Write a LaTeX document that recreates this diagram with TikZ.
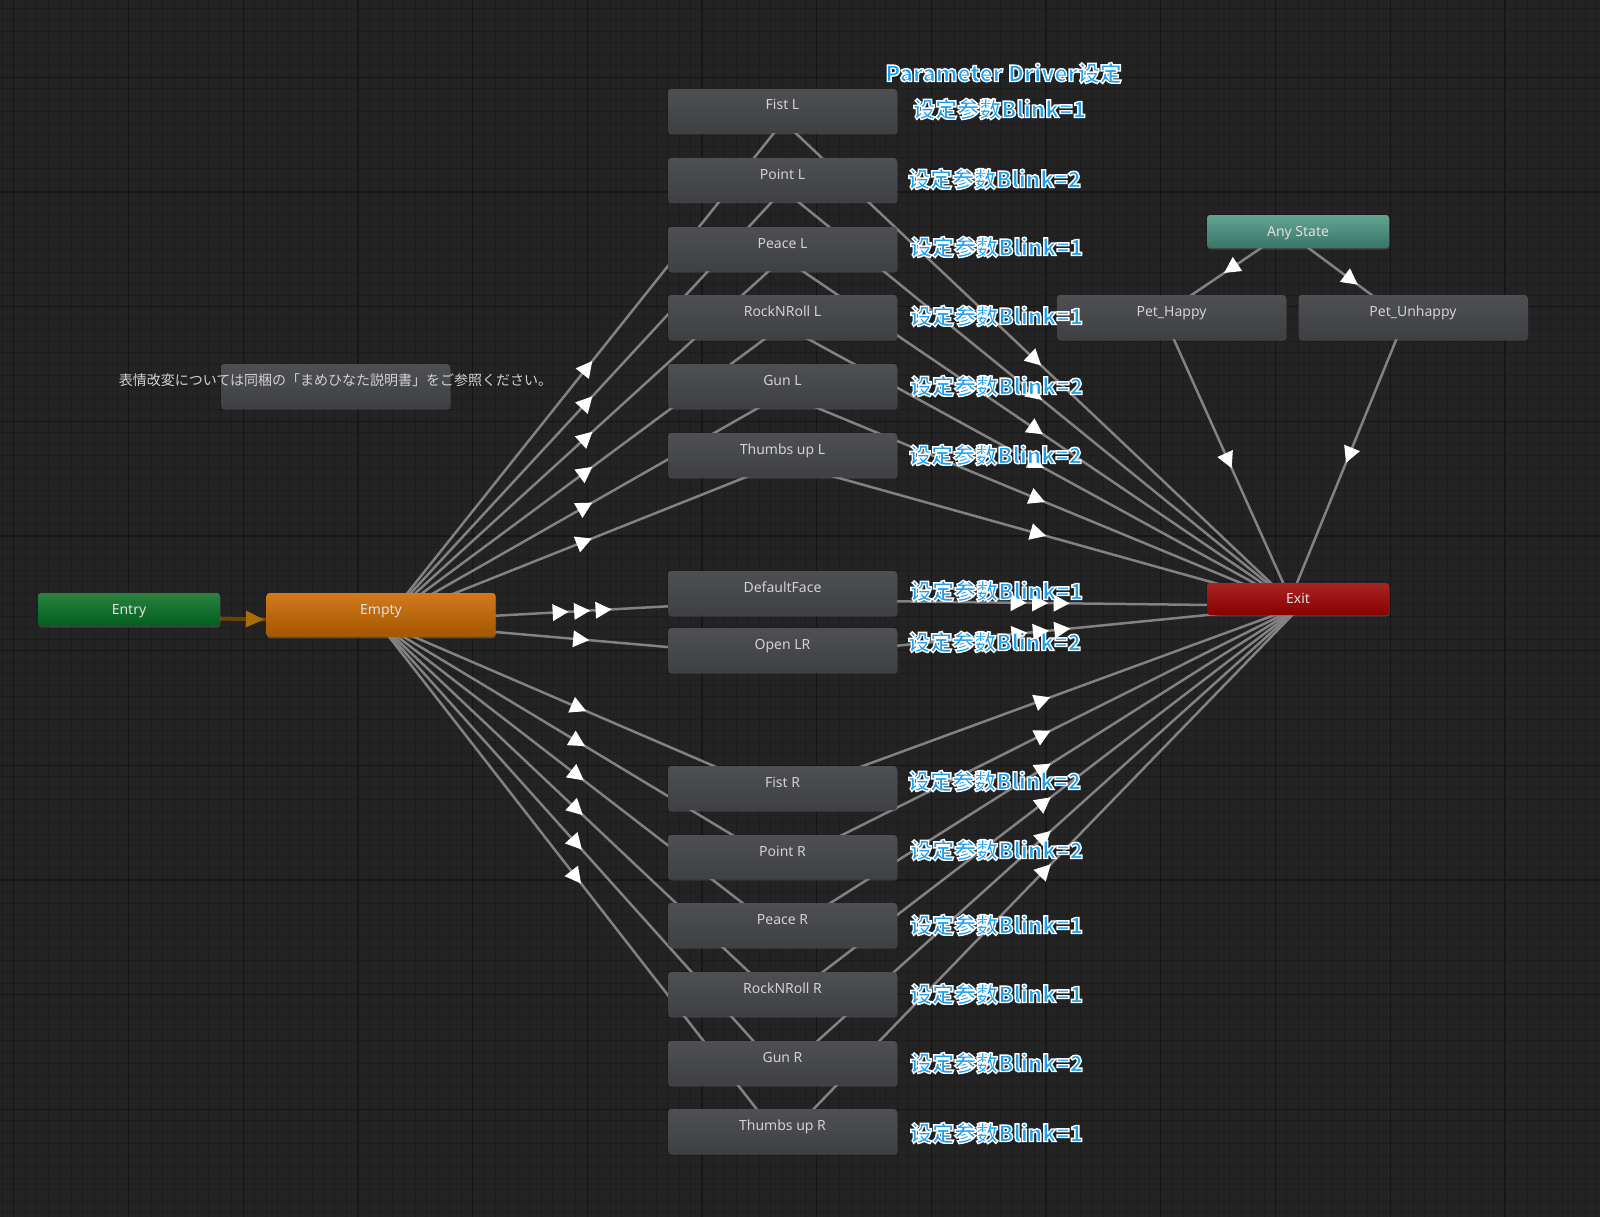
\documentclass[tikz,border=0pt]{standalone}
\usepackage{fontspec}
\setmainfont{Noto Sans}
\newfontfamily\jpfont{Noto Sans CJK JP}
\newfontfamily\drvfont{Noto Sans CJK SC}
\usetikzlibrary{calc, decorations.markings, shadows}

\definecolor{bggray}{RGB}{35,35,35}
\definecolor{gridminor}{RGB}{29,29,29}
\definecolor{gridmajor}{RGB}{22,22,22}
\definecolor{statetop}{RGB}{78,79,83}
\definecolor{statebot}{RGB}{63,64,68}
\definecolor{statetext}{RGB}{210,210,210}
\definecolor{edgegray}{RGB}{130,130,130}
\definecolor{entrytop}{RGB}{42,130,62}
\definecolor{entrybot}{RGB}{0,94,32}
\definecolor{emptytop}{RGB}{210,122,28}
\definecolor{emptybot}{RGB}{163,86,0}
\definecolor{exittop}{RGB}{170,36,36}
\definecolor{exitbot}{RGB}{136,0,0}
\definecolor{anytop}{RGB}{98,164,146}
\definecolor{anybot}{RGB}{58,117,104}
\definecolor{entryedge}{RGB}{104,68,10}
\definecolor{entryhead}{RGB}{168,110,4}
\definecolor{drvblue}{RGB}{28,158,240}

% white rim round the blue notes (fill + stroke text mode)
\newcommand{\drv}[1]{\special{pdf:literal direct 2 Tr 1.4 w 1 1 1 RG}#1\special{pdf:literal direct 0 Tr}}

\pgfdeclarelayer{grid}
\pgfdeclarelayer{edges}
\pgfsetlayers{grid,edges,main}

\begin{document}
\begin{tikzpicture}[
		x=1pt, y=-1pt,
		state/.style={rectangle, rounded corners=3pt, inner sep=0pt, minimum width=229pt, minimum height=44pt,
			top color=statetop, bottom color=statebot, text=statetext, font=\fontsize{14}{16}\selectfont,
			text height=10pt, text depth=12pt, drop shadow={opacity=0.35, shadow xshift=0.5pt, shadow yshift=-1.5pt}},
		small/.style={state, minimum width=182pt, minimum height=33pt, text depth=1pt, text=white!88!black},
		param/.style={anchor=west, inner sep=0pt, text=drvblue, font=\drvfont\bfseries\fontsize{22}{25}\selectfont},
		trans/.style={draw=edgegray, line width=2.5pt,
			to path={($(\tikztostart)!7pt!-90:(\tikztotarget)$) -- ($(\tikztotarget)!7pt!90:(\tikztostart)$)},
			postaction={decorate, decoration={markings, mark=at position 0.5 with
				{\fill[white] (8pt,0pt) -- (-8pt,8.5pt) -- (-8pt,-8.5pt) -- cycle;}}}},
		trans3/.style={trans,
			postaction={decorate, decoration={markings, mark=at position 0.5 with
				{\fill[white] (-13.5pt,0pt) -- (-29.5pt,8.5pt) -- (-29.5pt,-8.5pt) -- cycle;
				 \fill[white] (29.5pt,0pt) -- (13.5pt,8.5pt) -- (13.5pt,-8.5pt) -- cycle;}}}},
		entrytrans/.style={draw=entryedge, line width=4pt,
			to path={($(\tikztostart)!7pt!-90:(\tikztotarget)$) -- ($(\tikztotarget)!7pt!90:(\tikztostart)$)},
			postaction={decorate, decoration={markings, mark=at position 0.5 with
				{\fill[entryhead] (9pt,0pt) -- (-9pt,8.5pt) -- (-9pt,-8.5pt) -- cycle;}}}}
	]
	\useasboundingbox (0,0) rectangle (1600,1217);

	% animator grid
	\begin{pgfonlayer}{grid}
		\fill[bggray] (0,0) rectangle (1600,1217);
		\draw[gridminor, line width=1pt, shift={(13.8,77.2)}, step=11.47pt] (-13.8,-77.2) grid (1586.2,1139.8);
		\draw[gridmajor, line width=1.3pt, shift={(13.8,77.2)}, step=114.7pt] (-13.8,-77.2) grid (1586.2,1139.8);
	\end{pgfonlayer}

	% states
	\node[small, top color=entrytop, bottom color=entrybot] (entry) at (129,609.5) {Entry};
	\node[state, top color=emptytop, bottom color=emptybot, text=white!88!black] (empty) at (381,615) {Empty};
	\node[state] (note) at (335.5,386) {\makebox[0pt]{\jpfont 表情改変については同梱の「まめひなた説明書」をご参照ください。}};

	\node[state] (fistL) at (782.5,111) {Fist L};
	\node[state] (pointL) at (782.5,180) {Point L};
	\node[state] (peaceL) at (782.5,249) {Peace L};
	\node[state] (rockL) at (782.5,317) {RockNRoll L};
	\node[state] (gunL) at (782.5,386) {Gun L};
	\node[state] (thumbL) at (782.5,455) {Thumbs up L};
	\node[state] (face) at (782.5,593) {DefaultFace};
	\node[state] (openLR) at (782.5,650) {Open LR};
	\node[state] (fistR) at (782.5,788) {Fist R};
	\node[state] (pointR) at (782.5,857) {Point R};
	\node[state] (peaceR) at (782.5,925) {Peace R};
	\node[state] (rockR) at (782.5,994) {RockNRoll R};
	\node[state] (gunR) at (782.5,1063) {Gun R};
	\node[state] (thumbR) at (782.5,1131) {Thumbs up R};

	\node[small, top color=anytop, bottom color=anybot] (any) at (1298,231.5) {Any State};
	\node[state] (happy) at (1171.5,317) {Pet\_Happy};
	\node[state] (unhappy) at (1413,317) {Pet\_Unhappy};
	\node[small, minimum height=32pt, top color=exittop, bottom color=exitbot] (exit) at (1298,599) {Exit};

	% transitions
	\begin{pgfonlayer}{edges}
		\draw[entrytrans] (entry) to (empty);
		\draw[trans] (empty) to (fistL);
		\draw[trans] (empty) to (pointL);
		\draw[trans] (empty) to (peaceL);
		\draw[trans] (empty) to (rockL);
		\draw[trans] (empty) to (gunL);
		\draw[trans] (empty) to (thumbL);
		\draw[trans3] (empty) to (face);
		\draw[trans] (empty) to (openLR);
		\draw[trans] (empty) to (fistR);
		\draw[trans] (empty) to (pointR);
		\draw[trans] (empty) to (peaceR);
		\draw[trans] (empty) to (rockR);
		\draw[trans] (empty) to (gunR);
		\draw[trans] (empty) to (thumbR);

		\draw[trans] (fistL) to (exit);
		\draw[trans] (pointL) to (exit);
		\draw[trans] (peaceL) to (exit);
		\draw[trans] (rockL) to (exit);
		\draw[trans] (gunL) to (exit);
		\draw[trans] (thumbL) to (exit);
		\draw[trans3] (face) to (exit);
		\draw[trans3] (openLR) to (exit);
		\draw[trans] (fistR) to (exit);
		\draw[trans] (pointR) to (exit);
		\draw[trans] (peaceR) to (exit);
		\draw[trans] (rockR) to (exit);
		\draw[trans] (gunR) to (exit);
		\draw[trans] (thumbR) to (exit);

		\draw[trans] (any) to (happy);
		\draw[trans] (any) to (unhappy);
		\draw[trans] (happy) to (exit);
		\draw[trans] (unhappy) to (exit);
	\end{pgfonlayer}

	% parameter driver notes
	\node[param, anchor=center, font=\drvfont\bfseries\fontsize{22}{25}\selectfont] (drvhead) at (1003.5,73) {\drv{Parameter Driver设定}};
	\node[param] (drvFistL) at (913,109) {\drv{设定参数Blink=1}};
	\node[param] (drvPointL) at (908,179) {\drv{设定参数Blink=2}};
	\node[param] (drvPeaceL) at (910,247) {\drv{设定参数Blink=1}};
	\node[param] (drvRockL) at (910,316) {\drv{设定参数Blink=1}};
	\node[param] (drvGunL) at (910,386) {\drv{设定参数Blink=2}};
	\node[param] (drvThumbL) at (909,455) {\drv{设定参数Blink=2}};
	\node[param] (drvFace) at (910,591) {\drv{设定参数Blink=1}};
	\node[param] (drvOpenLR) at (908,642) {\drv{设定参数Blink=2}};
	\node[param] (drvFistR) at (908,781) {\drv{设定参数Blink=2}};
	\node[param] (drvPointR) at (910,850) {\drv{设定参数Blink=2}};
	\node[param] (drvPeaceR) at (910,925) {\drv{设定参数Blink=1}};
	\node[param] (drvRockR) at (910,994) {\drv{设定参数Blink=1}};
	\node[param] (drvGunR) at (910,1063) {\drv{设定参数Blink=2}};
	\node[param] (drvThumbR) at (910,1133) {\drv{设定参数Blink=1}};
\end{tikzpicture}
\end{document}
